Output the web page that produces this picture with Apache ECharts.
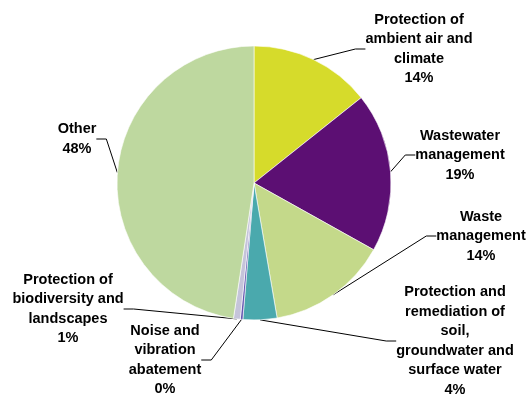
<!DOCTYPE html>
<html>
<head>
<meta charset="utf-8">
<script src="https://cdn.jsdelivr.net/npm/echarts@6/dist/echarts.min.js"></script>
<style>
  html, body { margin: 0; padding: 0; background: #fff; }
  #chart { width: 531px; height: 394px; }
</style>
</head>
<body>
<div id="chart"></div>
<script>
const categories = [
  'Protection of\nambient air and\nclimate',
  'Wastewater\nmanagement',
  'Waste\nmanagement',
  'Protection and\nremediation of\nsoil,\ngroundwater and\nsurface water',
  'Noise and\nvibration\nabatement',
  'Protection of\nbiodiversity and\nlandscapes',
  'Other'
];
const shares = [14.3, 18.8, 14.2, 4.0, 0.3, 0.8, 47.6];
const colors = ['#d6db2b', '#5c0f73', '#c4d98a', '#4aa9ad', '#6356b0', '#c5c4da', '#bed89f'];

// where each label block sits (centre of text)
const labelPos = [
  [419, 49], [460, 155], [481, 236], [455, 341], [165, 360], [68, 309], [77, 139]
];

const chart = echarts.init(document.getElementById('chart'));
chart.setOption({
  animation: false,
  series: [{
    type: 'pie',
    center: [254, 183],
    radius: 137,
    startAngle: 90,
    clockwise: true,
    avoidLabelOverlap: false,
    itemStyle: { borderColor: '#fff', borderWidth: 0.6 },
    label: {
      show: true,
      position: 'outside',
      color: '#000',
      fontFamily: 'Liberation Sans, Arial, sans-serif',
      fontWeight: 'bold',
      fontSize: 14.5,
      lineHeight: 19.5,
      align: 'center',
      formatter: p => p.name + '\n' + Math.round(p.value) + '%'
    },
    labelLine: {
      show: true,
      length: 15,
      length2: 10,
      lineStyle: { color: '#000', width: 1 }
    },
    labelLayout: p => ({
      x: labelPos[p.dataIndex][0],
      y: labelPos[p.dataIndex][1],
      align: 'center',
      verticalAlign: 'middle'
    }),
    data: categories.map((c, i) => ({
      name: c,
      value: shares[i],
      itemStyle: { color: colors[i] }
    }))
  }]
});
</script>
</body>
</html>
